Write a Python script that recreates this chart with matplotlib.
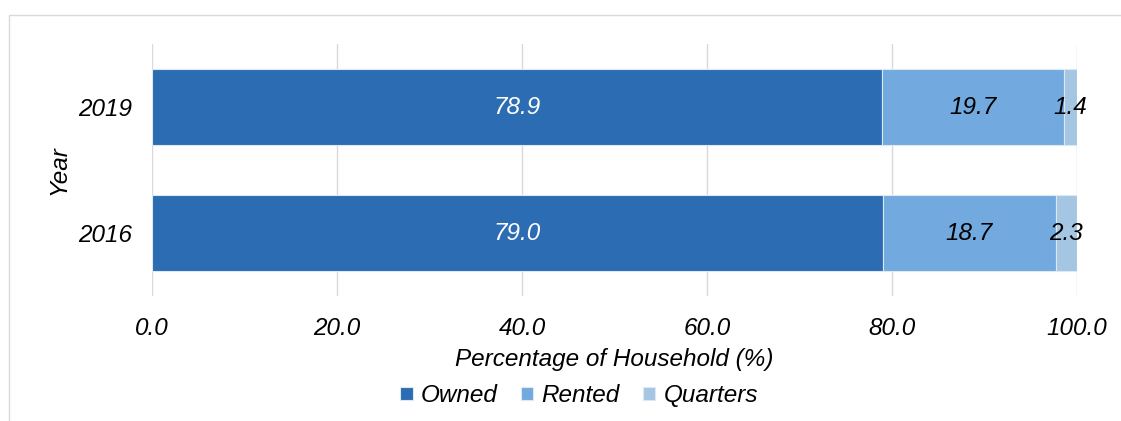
import matplotlib.pyplot as plt
from matplotlib.patches import Rectangle

plt.rcParams['font.family'] = ['Liberation Sans', 'DejaVu Sans']
plt.rcParams['font.style'] = 'italic'

# Data
years = ["2016", "2019"]
owned = [79.0, 78.9]
rented = [18.7, 19.7]
quarters = [2.3, 1.4]
series_names = ["Owned", "Rented", "Quarters"]
colors = ["#2B6CB3", "#72A9DE", "#A4C6E2"]
label_colors = ["white", "black", "black"]

FS = 17.5

fig = plt.figure(figsize=(11.21, 4.21), dpi=100)
ax = fig.add_axes([152 / 1121, 1 - 296 / 421, (1077 - 152) / 1121, (296 - 44) / 421])

# light frame around the chart area
fig.patches.append(Rectangle((9 / 1121, -0.1), 1.2, 1 - 15 / 421 + 0.1,
                             transform=fig.transFigure, fill=False,
                             edgecolor="#d9d9d9", linewidth=1))

ypos = list(range(len(years)))
left = [0.0] * len(years)
for vals, name, col, lc in zip([owned, rented, quarters], series_names, colors, label_colors):
    bars = ax.barh(ypos, vals, left=left, height=0.61, color=col,
                   edgecolor="#dce8f4", linewidth=0.8, label=name, zorder=2)
    for b, v in zip(bars, vals):
        ax.text(b.get_x() + b.get_width() / 2, b.get_y() + b.get_height() / 2,
                f"{v:.1f}", ha="center", va="center", color=lc, fontsize=FS, zorder=3)
    left = [l + v for l, v in zip(left, vals)]

ax.set_xlim(0, 100)
ax.set_ylim(-0.5, 1.5)
ax.set_xticks(range(0, 101, 20))
ax.set_xticklabels([f"{t:.1f}" for t in range(0, 101, 20)])
ax.set_yticks(ypos)
ax.set_yticklabels(years)
ax.tick_params(length=0, labelsize=FS, pad=14)
ax.tick_params(axis="x", pad=15)
ax.grid(axis="x", color="#d9d9d9", linewidth=1, zorder=0)
for s in ax.spines.values():
    s.set_visible(False)

ax.set_xlabel("Percentage of Household (%)", fontsize=FS, labelpad=6)
ax.set_ylabel("Year", fontsize=FS, labelpad=6)

ax.legend(loc="upper center", bbox_to_anchor=(0.462, -0.35), ncol=3, frameon=False,
          fontsize=FS, handlelength=0.5, handleheight=0.5, handletextpad=0.35,
          columnspacing=0.95, borderaxespad=0, borderpad=0)

fig.savefig("out.png", dpi=100)
